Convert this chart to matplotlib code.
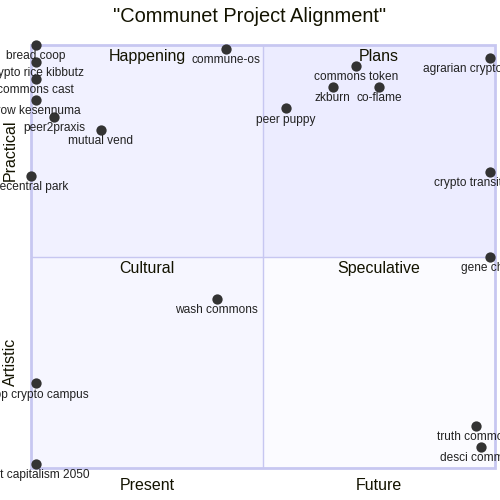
import matplotlib
matplotlib.use("Agg")
import matplotlib.pyplot as plt
from matplotlib.patches import Rectangle

plt.rcParams['font.family'] = ['Liberation Sans', 'DejaVu Sans']

title = '"Communet Project Alignment"'
x_labels = ["Present", "Future"]
y_labels = ["Artistic", "Practical"]
quadrant_names = ["Plans", "Happening", "Cultural", "Speculative"]

names = ["bread coop", "crypto rice kibbutz", "commons cast", "grow kesennuma",
         "peer2praxis", "mutual vend", "decentral park", "commune-os",
         "commons token", "zkburn", "co-flame", "peer puppy",
         "agrarian crypto commune", "crypto transit network", "gene chain", "wash commons",
         "coop crypto campus", "post capitalism 2050", "truth commons", "desci commons"]
xs = [0.01, 0.01, 0.01, 0.01, 0.05, 0.15, 0.00, 0.42,
      0.70, 0.65, 0.75, 0.55, 0.99, 0.99, 0.99, 0.40,
      0.01, 0.01, 0.96, 0.97]
ys = [1.00, 0.96, 0.92, 0.87, 0.83, 0.80, 0.69, 0.99,
      0.95, 0.90, 0.90, 0.85, 0.97, 0.70, 0.50, 0.40,
      0.20, 0.01, 0.10, 0.05]

fig = plt.figure(figsize=(5, 5), dpi=100)
fig.patch.set_facecolor('white')
ax = fig.add_axes([31/500, 32/500, 464/500, 423/500])
ax.set_xlim(0, 1)
ax.set_ylim(0, 1)
ax.axis('off')

fills = {(0.5, 0.5): '#ececff', (0, 0.5): '#f1f1ff', (0, 0): '#f6f6ff', (0.5, 0): '#fbfbff'}
for (x0, y0), c in fills.items():
    ax.add_patch(Rectangle((x0, y0), 0.5, 0.5, facecolor=c, edgecolor='none', zorder=0))
border = '#c7c7f1'
ax.add_patch(Rectangle((0, 0), 1, 1, facecolor='none', edgecolor=border, lw=2, zorder=1, clip_on=False))
ax.plot([0.5, 0.5], [0, 1], color=border, lw=1, zorder=1)
ax.plot([0, 1], [0.5, 0.5], color=border, lw=1, zorder=1)

qfs = 11.5
ax.text(0.75, 0.972, quadrant_names[0], ha='center', va='center', fontsize=qfs, color='#131300')
ax.text(0.25, 0.972, quadrant_names[1], ha='center', va='center', fontsize=qfs, color='#131300')
ax.text(0.25, 0.472, quadrant_names[2], ha='center', va='center', fontsize=qfs, color='#131300')
ax.text(0.75, 0.472, quadrant_names[3], ha='center', va='center', fontsize=qfs, color='#131300')

ax.scatter(xs, ys, s=55, color='#333333', zorder=3, clip_on=False, linewidths=0)
for n, x, y in zip(names, xs, ys):
    ax.annotate(n, (x, y), xytext=(0, -8), textcoords='offset points',
                ha='center', va='center', fontsize=8.6, color='#222222',
                annotation_clip=False, zorder=4)

fig.text(0.5, 1 - 17/500, title, ha='center', va='center', fontsize=14.4, color='#131300')
fig.text(147/500, 1 - 485/500, x_labels[0], ha='center', va='center', fontsize=11.5, color='#131300')
fig.text(379/500, 1 - 485/500, x_labels[1], ha='center', va='center', fontsize=11.5, color='#131300')
fig.text(10/500, 1 - 150/500, y_labels[1], ha='center', va='center', rotation=90, fontsize=11.5, color='#131300')
fig.text(10/500, 1 - 362/500, y_labels[0], ha='center', va='center', rotation=90, fontsize=11.5, color='#131300')

fig.savefig('out.png', dpi=100, facecolor='white')
